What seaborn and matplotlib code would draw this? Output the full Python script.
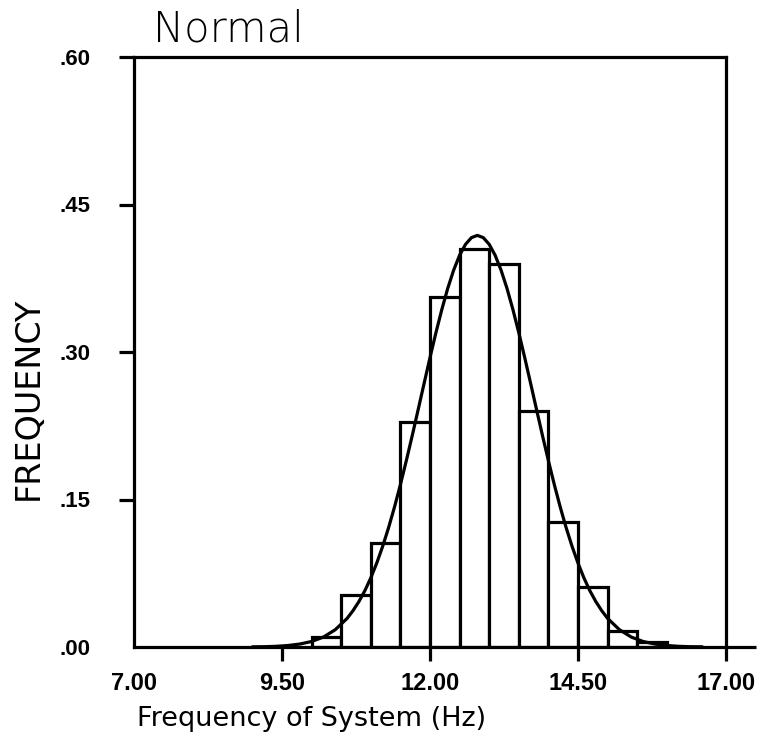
import numpy as np
import pandas as pd
import matplotlib
matplotlib.use("Agg")
import matplotlib.pyplot as plt
import seaborn as sns

# ---- data ----
bin_edges = [10.0, 10.5, 11.0, 11.5, 12.0, 12.5, 13.0, 13.5, 14.0, 14.5, 15.0, 15.5, 16.0]
bar_heights = [0.010, 0.053, 0.106, 0.229, 0.356, 0.405, 0.390, 0.240, 0.127, 0.061, 0.016, 0.005]

curve_x = [9.0, 9.2, 9.4, 9.6, 9.8, 10.0, 10.2, 10.4,
           10.6, 10.7, 10.8, 10.9, 11.0, 11.1, 11.2, 11.3, 11.4, 11.5, 11.6, 11.7, 11.8, 11.9,
           12.0, 12.1, 12.2, 12.3, 12.4, 12.5, 12.6, 12.7, 12.8, 12.9, 13.0, 13.1, 13.2, 13.3,
           13.4, 13.5, 13.6, 13.7, 13.8, 13.9, 14.0, 14.1, 14.2, 14.3, 14.4, 14.5, 14.6, 14.7,
           14.8, 14.9, 15.0,
           15.2, 15.4, 15.6, 15.8, 16.0, 16.2, 16.4, 16.6]
curve_y = [0.0002, 0.0003, 0.0007, 0.0015, 0.0030, 0.0056, 0.0101, 0.0176,
           0.0291, 0.0370, 0.0463, 0.0573, 0.0703, 0.0853, 0.1023, 0.1213, 0.1423, 0.1651,
           0.1895, 0.2150, 0.2414, 0.2680,
           0.2943, 0.3196, 0.3433, 0.3648, 0.3833, 0.3984, 0.4095, 0.4163, 0.4186, 0.4163,
           0.4095, 0.3984, 0.3833, 0.3648,
           0.3433, 0.3196, 0.2943, 0.2680, 0.2414, 0.2150, 0.1895, 0.1651, 0.1423, 0.1213,
           0.1023, 0.0853, 0.0703, 0.0573,
           0.0463, 0.0370, 0.0291,
           0.0176, 0.0101, 0.0056, 0.0030, 0.0015, 0.0007, 0.0003, 0.0002]

x_ticks = [7.0, 9.5, 12.0, 14.5, 17.0]
x_tick_labels = ["7.00", "9.50", "12.00", "14.50", "17.00"]
y_ticks = [0.0, 0.15, 0.30, 0.45, 0.60]
y_tick_labels = [".00", ".15", ".30", ".45", ".60"]

title_text = "Normal"
x_label = "Frequency of System (Hz)"
y_label = "FREQUENCY"

# ---- drawing ----
sns.set_style("ticks")
plt.rcParams["font.family"] = ["Liberation Sans", "DejaVu Sans"]
for k in ["text.color", "axes.labelcolor", "xtick.color", "ytick.color", "axes.edgecolor"]:
    plt.rcParams[k] = "black"

fig = plt.figure(figsize=(7.62, 7.40), dpi=100)
ax = fig.add_axes([134 / 762, 1 - 647 / 740, (726 - 134) / 762, (647 - 57) / 740])

centers = [(a + b) / 2 for a, b in zip(bin_edges[:-1], bin_edges[1:])]
df = pd.DataFrame({"x": centers, "w": bar_heights})
sns.histplot(data=df, x="x", weights="w", bins=bin_edges, stat="count",
             color="white", edgecolor="black", linewidth=2.3, alpha=1.0, ax=ax)

cdf = pd.DataFrame({"x": curve_x, "y": curve_y})
sns.lineplot(data=cdf, x="x", y="y", color="black", linewidth=2.3, ax=ax)

ax.set_xlim(7, 17)
ax.set_ylim(0, 0.6)
ax.set_xticks(x_ticks)
ax.set_xticklabels(x_tick_labels, fontsize=17, fontweight="bold")
ax.set_yticks(y_ticks)
ax.set_yticklabels(y_tick_labels, fontsize=16, fontweight="bold")

for s in ax.spines.values():
    s.set_linewidth(2.3)
    s.set_color("black")

ax.tick_params(axis="x", direction="out", length=10, width=2.3, pad=8, colors="black")
ax.tick_params(axis="y", direction="out", length=11, width=2.3, pad=20, colors="black")
ax.xaxis.get_major_ticks()[0].tick1line.set_visible(False)
ax.yaxis.get_major_ticks()[0].tick1line.set_visible(False)

# bottom axis line extends past the right frame
ax.plot([1.0, 1.05], [0, 0], transform=ax.transAxes, color="black",
        linewidth=2.3, clip_on=False, solid_capstyle="butt")

ax.set_xlabel(x_label, fontsize=19.5, family=["DejaVu Sans"], ha="left")
ax.xaxis.set_label_coords(0.005, -0.100)
ax.set_ylabel(y_label, fontsize=24, family=["DejaVu Sans"])
ax.yaxis.set_label_coords(-0.150, 0.422)
ax.set_title(title_text, loc="left", x=0.032, pad=11, fontsize=30,
             family=["DejaVu Sans"], fontweight="light", color="black")

fig.savefig("out.png", dpi=100, facecolor="white")
